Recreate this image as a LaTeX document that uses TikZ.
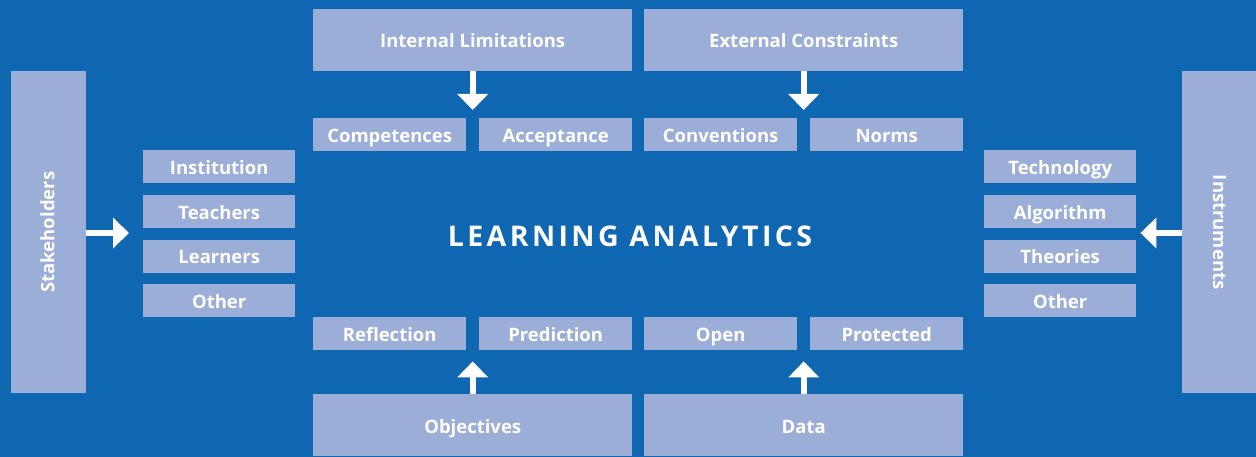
\documentclass[tikz,border=0pt]{standalone}
\usepackage{fontspec}
\setmainfont{Open Sans}
\newfontfamily\titlefont[LetterSpace=12]{Open Sans}
\usetikzlibrary{arrows.meta,calc}
\definecolor{bg}{RGB}{15,103,177}
\definecolor{boxc}{RGB}{155,174,216}
\begin{document}
\begin{tikzpicture}[x=1pt,y=-1pt,
  lbl/.style={text=white, font=\fontsize{18.5}{21}\selectfont\bfseries, inner sep=0pt, text height=13.2pt, text depth=0pt},
  box/.style={lbl, text height=15.6pt, fill=boxc, draw=none, anchor=north west, align=center},
  big/.style={box, minimum width=319pt, minimum height=62pt},
  small/.style={box, minimum width=153pt, minimum height=33pt},
  side/.style={box, minimum width=152pt, minimum height=33pt},
  tall/.style={box, minimum width=75pt, minimum height=322pt},
  arr/.style={draw=white, line width=6pt, -{Triangle[width=30pt,length=16pt]}}]
\fill[bg] (0,0) rectangle (1256,457);
\useasboundingbox (0,0) rectangle (1256,457);
% top
\node[big] (IL) at (313,9) {Internal Limitations};
\node[big] (EC) at (644,9) {External Constraints};
\node[small] (Comp) at (313,118) {Competences};
\node[small] (Acc) at (479,118) {Acceptance};
\node[small] (Conv) at (644,118) {Conventions};
\node[small] (Norm) at (810,118) {Norms};
% bottom
\node[small] (Refl) at (313,317) {Reflection};
\node[small] (Pred) at (479,317) {Prediction};
\node[small] (Open) at (644,317) {Open};
\node[small] (Prot) at (810,317) {Protected};
\node[big] (Obj) at (313,394) {Objectives};
\node[big] (Data) at (644,394) {Data};
% left
\node[tall] (Stk) at (11,71) {};
\node[lbl, rotate=90] (StkT) at ($(Stk.center)+(-1,0)$) {Stakeholders};
\node[side] (Inst) at (143,150) {Institution};
\node[side] (Teach) at (143,195) {Teachers};
\node[side] (Learn) at (143,239.5) {Learners};
\node[side] (OthL) at (143,284) {Other};
% right
\node[tall, minimum width=77pt] (Ins) at (1182,71) {};
\node[lbl, rotate=-90] (InsT) at ($(Ins.center)+(-1,0)$) {Instruments};
\node[side] (Tech) at (984,150) {Technology};
\node[side] (Alg) at (984,195) {Algorithm};
\node[side] (Theo) at (984,239.5) {Theories};
\node[side] (OthR) at (984,284) {Other};
% title
\node[text=white, font=\titlefont\fontsize{28.5}{30}\selectfont\bfseries, inner sep=0pt, text height=20pt, text depth=0pt] (LA) at (630,237) {LEARNING ANALYTICS};
% arrows
\coordinate (tA) at ($(Comp.north east)!0.5!(Acc.north west)$);
\coordinate (tB) at ($(Conv.north east)!0.5!(Norm.north west)$);
\coordinate (tC) at ($(Refl.south east)!0.5!(Pred.south west)$);
\coordinate (tD) at ($(Open.south east)!0.5!(Prot.south west)$);
\draw[arr, shorten >=8pt] (IL.south) -- (tA);
\draw[arr, shorten >=8pt] (EC.south) -- (tB);
\draw[arr, shorten >=11pt] (Obj.north) -- (tC);
\draw[arr, shorten >=11pt] (Data.north) -- (tD);
\draw[arr, shorten >=14pt] (Stk.east |- 0,233) -- (Teach.west |- 0,233);
\draw[arr, shorten >=4pt] (Ins.west |- 0,233) -- (Tech.east |- 0,233);
\end{tikzpicture}
\end{document}
